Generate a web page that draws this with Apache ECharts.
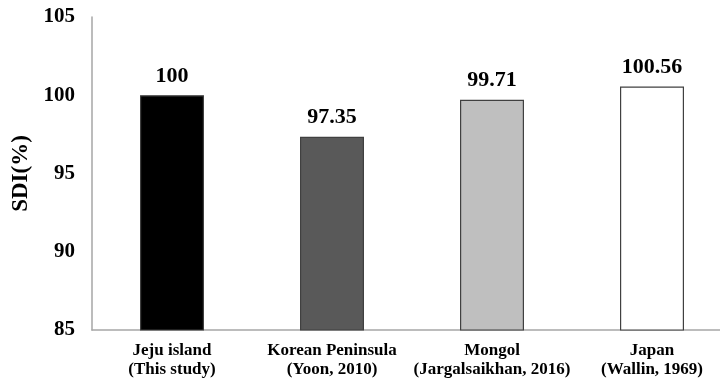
<!DOCTYPE html>
<html>
<head>
<meta charset="utf-8">
<script src="https://cdn.jsdelivr.net/npm/echarts@6/dist/echarts.min.js"></script>
<style>
  html, body { margin: 0; padding: 0; background: #fff; overflow: hidden; }
  /* the plot area continues past the right edge of the window */
  #chart { width: 732px; height: 381px; }
</style>
</head>
<body>
<div id="chart"></div>
<script>
// Study populations and their SDI values
const categories = [
  'Jeju island\n(This study)',
  'Korean Peninsula\n(Yoon, 2010)',
  'Mongol\n(Jargalsaikhan, 2016)',
  'Japan\n(Wallin, 1969)'
];
const sdiValues = [100, 97.35, 99.71, 100.56];
const barColors = ['#000000', '#595959', '#bfbfbf', '#ffffff'];
const yTicks = { min: 85, max: 105, step: 5 };

const serif = '"Liberation Serif", "Times New Roman", serif';

const chart = echarts.init(document.getElementById('chart'), null, { renderer: 'canvas' });

chart.setOption({
  animation: false,
  backgroundColor: '#ffffff',
  grid: { left: 92, right: 0, top: 17, bottom: 51, containLabel: false },
  xAxis: {
    type: 'category',
    data: categories,
    axisLine: { lineStyle: { color: '#a6a6a6', width: 1.5 } },
    axisTick: { show: false },
    axisLabel: {
      interval: 0,
      margin: 11,
      color: '#000',
      fontFamily: serif,
      fontWeight: 'bold',
      fontSize: 17,
      lineHeight: 19
    },
    splitLine: { show: false }
  },
  yAxis: {
    type: 'value',
    min: yTicks.min,
    max: yTicks.max,
    interval: yTicks.step,
    name: 'SDI(%)',
    nameLocation: 'middle',
    nameRotate: 90,
    nameGap: 59,
    nameTextStyle: {
      color: '#000',
      fontFamily: serif,
      fontWeight: 'bold',
      fontSize: 23
    },
    axisLine: { show: true, lineStyle: { color: '#a6a6a6', width: 1.5 } },
    axisTick: { show: false },
    splitLine: { show: false },
    axisLabel: {
      margin: 17,
      color: '#000',
      fontFamily: serif,
      fontWeight: 'bold',
      fontSize: 21
    }
  },
  series: [{
    type: 'bar',
    barWidth: 64,
    data: sdiValues.map((v, i) => ({
      value: v,
      itemStyle: { color: barColors[i], borderColor: '#404040', borderWidth: 1.2 }
    })),
    label: {
      show: true,
      position: 'top',
      distance: 8,
      color: '#000',
      fontFamily: serif,
      fontWeight: 'bold',
      fontSize: 22,
      formatter: p => String(p.value)
    }
  }]
});
</script>
</body>
</html>
